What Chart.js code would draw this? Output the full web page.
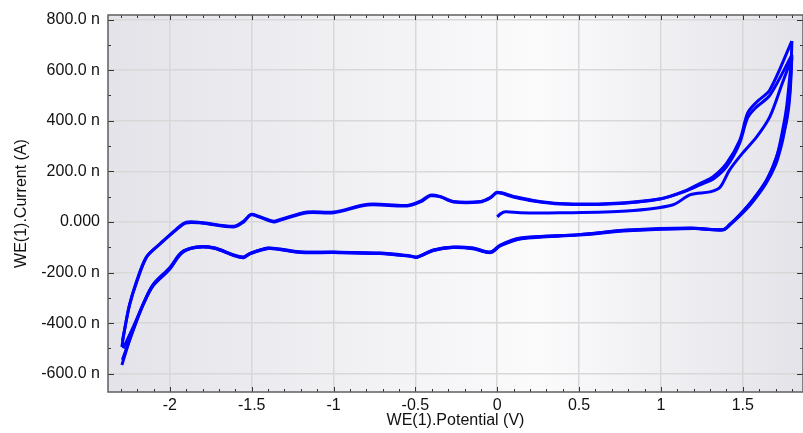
<!DOCTYPE html>
<html>
<head>
<meta charset="utf-8">
<script src="https://cdn.jsdelivr.net/npm/chart.js@4.4.1/dist/chart.umd.min.js"></script>
<style>
  html, body { margin: 0; padding: 0; background: #fff; }
  #wrap { width: 803px; height: 433px; }
</style>
</head>
<body>
<div id="wrap"><canvas id="cvChart" width="803" height="433"></canvas></div>
<script>
// potential in V, current in nA, read off the plot pass by pass
// first sweep, starts at 0 V going positive
const potA = [0.0, 0.02, 0.05, 0.14, 0.38, 0.79, 1.07, 1.18, 1.30, 1.36, 1.42, 1.50, 1.585, 1.665, 1.74, 1.80];
const curA = [20, 32, 40, 36, 36, 43, 67, 108, 119, 136, 206, 273, 336, 415, 545, 650];

// reverse sweeps (1.8 V -> -2.3 V)
const potB = [1.80, 1.787, 1.768, 1.744, 1.707, 1.646, 1.561, 1.482, 1.42, 1.378, 1.177, 0.793, 0.506, 0.14, 0.018, -0.043, -0.146, -0.268, -0.39, -0.488, -0.53, -0.713, -1.0, -1.2, -1.326, -1.402, -1.506, -1.549, -1.61, -1.73, -1.84, -1.927, -2.006, -2.11, -2.17, -2.232, -2.293];
const curB = [650, 573, 455, 364, 257, 166, 87, 28, -12, -32, -24, -32, -50, -63, -91, -119, -103, -99, -111, -138, -134, -123, -119, -119, -107, -103, -123, -138, -130, -102, -99, -123, -190, -257, -336, -439, -565];

const potD = [1.80, 1.795, 1.788, 1.775, 1.755, 1.735, 1.70, 1.64, 1.555, 1.478, 1.42, 1.385, 1.2, 0.8, 0.5, 0.15, 0.02, -0.04, -0.15, -0.27, -0.39, -0.49, -0.53, -0.72, -1.0, -1.2, -1.33, -1.4, -1.51, -1.55, -1.61, -1.73, -1.84, -1.93, -2.0, -2.1, -2.16, -2.22, -2.285];
const curD = [715, 610, 520, 440, 360, 300, 225, 150, 75, 22, -10, -30, -26, -35, -52, -66, -94, -121, -106, -101, -113, -140, -136, -125, -121, -121, -109, -105, -126, -141, -133, -104, -101, -120, -180, -245, -320, -410, -500];

const potF = [1.80, 1.796, 1.79, 1.78, 1.765, 1.74, 1.705, 1.65, 1.565, 1.485, 1.425, 1.38, 1.19, 0.8, 0.5, 0.15, 0.02, -0.04, -0.15, -0.27, -0.39, -0.49, -0.53, -0.72, -1.0, -1.2, -1.33, -1.4, -1.51, -1.55, -1.61, -1.73, -1.84, -1.93, -2.0, -2.1, -2.165, -2.225, -2.29];
const curF = [660, 590, 520, 450, 390, 330, 255, 170, 90, 30, -8, -30, -25, -33, -50, -64, -93, -120, -104, -100, -112, -139, -135, -124, -120, -119, -108, -104, -124, -139, -131, -103, -100, -122, -185, -250, -330, -430, -545];

// forward sweeps (-2.3 V -> 1.8 V)
const potC = [-2.293, -2.28, -2.25, -2.207, -2.146, -2.067, -1.963, -1.902, -1.811, -1.61, -1.549, -1.506, -1.457, -1.366, -1.323, -1.159, -1.0, -0.793, -0.549, -0.47, -0.409, -0.348, -0.268, -0.104, -0.043, 0.0, 0.098, 0.22, 0.384, 0.689, 0.994, 1.159, 1.256, 1.317, 1.402, 1.482, 1.53, 1.585, 1.665, 1.80];
const curC = [-494, -439, -336, -241, -142, -91, -32, -4, -4, -20, 0, 28, 20, 0, 8, 36, 36, 67, 63, 79, 103, 99, 79, 79, 95, 115, 99, 83, 71, 71, 91, 126, 158, 178, 233, 324, 431, 474, 522, 715];

const potE = [-2.29, -2.275, -2.245, -2.2, -2.14, -2.06, -1.96, -1.9, -1.81, -1.61, -1.55, -1.505, -1.455, -1.365, -1.32, -1.16, -1.0, -0.79, -0.55, -0.47, -0.41, -0.35, -0.27, -0.1, -0.04, 0.0, 0.1, 0.22, 0.38, 0.69, 1.0, 1.16, 1.26, 1.32, 1.4, 1.48, 1.53, 1.585, 1.665, 1.80];
const curE = [-470, -420, -325, -232, -136, -86, -28, -1, -2, -17, 3, 30, 22, 3, 11, 39, 39, 70, 65, 82, 106, 101, 81, 81, 97, 117, 101, 85, 73, 73, 92, 124, 153, 170, 218, 310, 412, 455, 500, 660];

const xTickValues = [-2.3, -2.2, -2.1, -2.0, -1.9, -1.8, -1.7, -1.6, -1.5, -1.4, -1.3, -1.2, -1.1, -1.0, -0.9, -0.8, -0.7, -0.6, -0.5, -0.4, -0.3, -0.2, -0.1, 0, 0.1, 0.2, 0.3, 0.4, 0.5, 0.6, 0.7, 0.8, 0.9, 1.0, 1.1, 1.2, 1.3, 1.4, 1.5, 1.6, 1.7, 1.8];
const xMajorTicks = [-2, -1.5, -1, -0.5, 0, 0.5, 1, 1.5];
const xTickLabels = ['-2', '-1.5', '-1', '-0.5', '0', '0.5', '1', '1.5'];
const yTickValues = [-600, -500, -400, -300, -200, -100, 0, 100, 200, 300, 400, 500, 600, 700, 800];
const yMajorTicks = [-600, -400, -200, 0, 200, 400, 600, 800];
const yTickLabels = ['-600.0 n', '-400.0 n', '-200.0 n', '0.000', '200.0 n', '400.0 n', '600.0 n', '800.0 n'];

const FONT = "'Liberation Sans', Arial, sans-serif";
const TEXT = '#111';

const majorIndex = (list, v) => list.findIndex((m) => Math.abs(m - v) < 1e-6);
const toPoints = (pot, cur) => pot.map((v, i) => ({ x: v, y: cur[i] }));

const passes = [[potA, curA], [potB, curB], [potC, curC], [potD, curD], [potE, curE], [potF, curF]];

// gradient background + boxed frame with inward ticks on all four sides
const plotFrame = {
    id: 'plotFrame',
    beforeDraw(chart) {
        const { ctx, chartArea: a } = chart;
        const g = ctx.createLinearGradient(a.left, 0, a.right, 0);
        g.addColorStop(0, '#e3e3e9');
        g.addColorStop(0.62, '#fbfbfc');
        g.addColorStop(1, '#e3e3e9');
        ctx.save();
        ctx.fillStyle = g;
        ctx.fillRect(a.left, a.top, a.right - a.left, a.bottom - a.top);
        ctx.restore();
    },
    afterDraw(chart) {
        const { ctx, chartArea: a, scales } = chart;
        ctx.save();
        ctx.strokeStyle = '#333';
        ctx.lineWidth = 1;
        ctx.beginPath();
        scales.x.ticks.forEach((t) => {
            const px = Math.round(scales.x.getPixelForValue(t.value)) + 0.5;
            const len = majorIndex(xMajorTicks, t.value) >= 0 ? 5 : 3;
            ctx.moveTo(px, a.bottom); ctx.lineTo(px, a.bottom - len);
            ctx.moveTo(px, a.top); ctx.lineTo(px, a.top + len);
        });
        scales.y.ticks.forEach((t) => {
            const py = Math.round(scales.y.getPixelForValue(t.value)) + 0.5;
            const len = majorIndex(yMajorTicks, t.value) >= 0 ? 6 : 3;
            ctx.moveTo(a.left, py); ctx.lineTo(a.left + len, py);
            ctx.moveTo(a.right, py); ctx.lineTo(a.right - len, py);
        });
        ctx.stroke();
        ctx.strokeStyle = '#5f5f5f';
        ctx.lineWidth = 1.5;
        ctx.strokeRect(a.left, a.top, a.right - a.left, a.bottom - a.top);
        ctx.restore();
    }
};

new Chart(document.getElementById('cvChart').getContext('2d'), {
    type: 'scatter',
    data: {
        datasets: passes.map(([pot, cur]) => ({
            data: toPoints(pot, cur),
            showLine: true,
            borderColor: '#0000ff',
            borderWidth: 3,
            pointRadius: 0,
            tension: 0.3,
            fill: false
        }))
    },
    options: {
        responsive: false,
        animation: false,
        events: [],
        layout: { padding: { top: 15, left: 0, right: 0, bottom: 0 } },
        plugins: { legend: { display: false }, tooltip: { enabled: false } },
        scales: {
            x: {
                type: 'linear',
                min: -2.378,
                max: 1.868,
                afterBuildTicks(s) { s.ticks = xTickValues.map((v) => ({ value: v })); },
                afterFit(s) { s.height = 41; s.paddingLeft = 0; s.paddingRight = 0; },
                border: { display: false },
                grid: {
                    color: (c) => (c.tick && majorIndex(xMajorTicks, c.tick.value) >= 0 ? '#d8d8d8' : 'rgba(0,0,0,0)'),
                    lineWidth: 1.5,
                    drawTicks: false
                },
                ticks: {
                    autoSkip: false,
                    maxRotation: 0,
                    padding: 4,
                    color: TEXT,
                    font: { family: FONT, size: 16 },
                    callback: (v) => { const i = majorIndex(xMajorTicks, v); return i >= 0 ? xTickLabels[i] : ''; }
                },
                title: { display: true, text: 'WE(1).Potential (V)', color: TEXT, font: { family: FONT, size: 16 }, padding: { top: 0, bottom: 3 } }
            },
            y: {
                type: 'linear',
                min: -672,
                max: 818,
                afterBuildTicks(s) { s.ticks = yTickValues.map((v) => ({ value: v })); },
                afterFit(s) { s.width = 108; s.paddingTop = 0; s.paddingBottom = 0; },
                border: { display: false },
                grid: {
                    color: (c) => (c.tick && majorIndex(yMajorTicks, c.tick.value) >= 0 ? '#d8d8d8' : 'rgba(0,0,0,0)'),
                    lineWidth: 1.5,
                    drawTicks: false
                },
                ticks: {
                    autoSkip: false,
                    padding: 8,
                    color: TEXT,
                    font: { family: FONT, size: 16 },
                    callback: (v) => { const i = majorIndex(yMajorTicks, v); return i >= 0 ? yTickLabels[i] : ''; }
                },
                title: { display: true, text: 'WE(1).Current (A)', color: TEXT, font: { family: FONT, size: 16 }, padding: { top: 12, bottom: 0 } }
            }
        }
    },
    plugins: [plotFrame]
});
</script>
</body>
</html>
